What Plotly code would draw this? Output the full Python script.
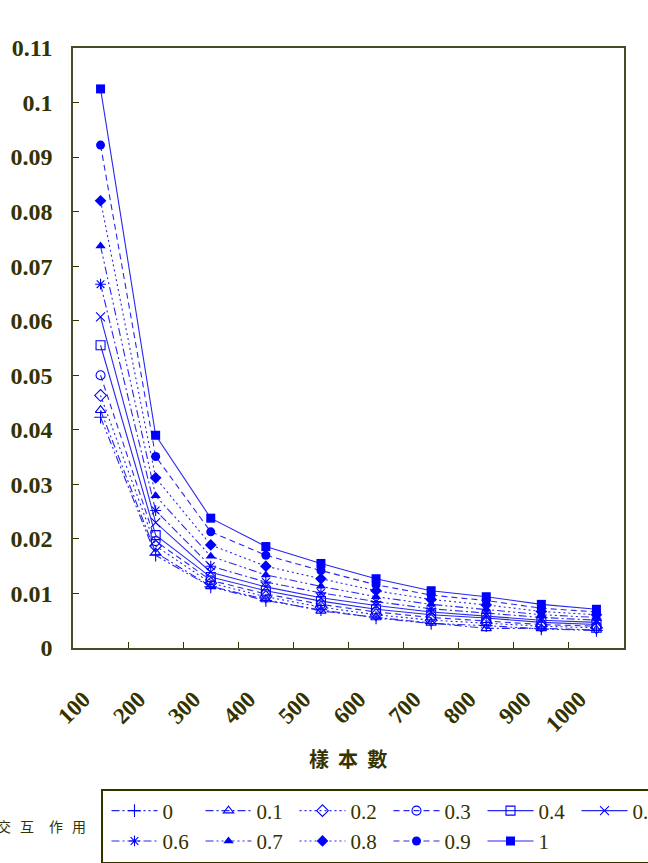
import plotly.graph_objects as go

categories = ['100', '200', '300', '400', '500', '600', '700', '800', '900', '1000']
series_names = ['0', '0.1', '0.2', '0.3', '0.4', '0.5', '0.6', '0.7', '0.8', '0.9', '1']

s_00 = [0.0423, 0.0170, 0.0112, 0.0087, 0.0070, 0.0055, 0.0045, 0.0041, 0.0035, 0.0032]
s_01 = [0.0436, 0.0175, 0.0113, 0.0089, 0.0068, 0.0056, 0.0046, 0.0036, 0.0036, 0.0033]
s_02 = [0.0463, 0.0187, 0.0119, 0.0094, 0.0075, 0.0061, 0.0051, 0.0046, 0.0040, 0.0037]
s_03 = [0.0500, 0.0196, 0.0124, 0.0099, 0.0080, 0.0066, 0.0056, 0.0050, 0.0043, 0.0040]
s_04 = [0.0555, 0.0207, 0.0130, 0.0105, 0.0086, 0.0071, 0.0061, 0.0055, 0.0047, 0.0043]
s_05 = [0.0607, 0.0230, 0.0139, 0.0112, 0.0092, 0.0078, 0.0066, 0.0059, 0.0051, 0.0047]
s_06 = [0.0667, 0.0252, 0.0150, 0.0121, 0.0101, 0.0085, 0.0072, 0.0064, 0.0056, 0.0051]
s_07 = [0.0737, 0.0279, 0.0168, 0.0134, 0.0113, 0.0094, 0.0080, 0.0071, 0.0061, 0.0056]
s_08 = [0.0820, 0.0312, 0.0189, 0.0150, 0.0127, 0.0105, 0.0089, 0.0079, 0.0067, 0.0061]
s_09 = [0.0922, 0.0351, 0.0213, 0.0170, 0.0142, 0.0116, 0.0097, 0.0087, 0.0073, 0.0066]
s_10 = [0.1025, 0.0390, 0.0238, 0.0186, 0.0155, 0.0127, 0.0105, 0.0094, 0.0080, 0.0071]

y_ticks = [0, 0.01, 0.02, 0.03, 0.04, 0.05, 0.06, 0.07, 0.08, 0.09, 0.1, 0.11]
y_tick_text = ['0', '0.01', '0.02', '0.03', '0.04', '0.05', '0.06', '0.07', '0.08', '0.09', '0.1', '0.11']

all_series = [s_00, s_01, s_02, s_03, s_04, s_05, s_06, s_07, s_08, s_09, s_10]

DDD = "8px,3px,2px,3px,2px,3px"
DD = "8px,3px,2px,3px"
DOT = "2px,3px"
DASH = "6px,4px"
styles = [
    ('cross-thin-open', DDD),
    ('triangle-up-open', DD),
    ('diamond-open', DOT),
    ('circle-open', DASH),
    ('square-open', 'solid'),
    ('x-thin-open', 'solid'),
    ('asterisk-open', DD),
    ('triangle-up', DDD),
    ('diamond', DOT),
    ('circle', DASH),
    ('square', 'solid'),
]

BLUE = '#0000FF'
LINE = '#2828F0'
OLIVE = '#333300'

fig = go.Figure()
for name, vals, (sym, dash) in zip(series_names, all_series, styles):
    filled = not sym.endswith('open')
    fig.add_trace(go.Scatter(
        x=categories, y=vals, name=name, mode='lines+markers',
        line=dict(color=LINE, width=1.1, dash=dash),
        marker=dict(symbol=sym, size=9, color=BLUE,
                    line=dict(color=BLUE, width=0 if filled else 1.1)),
    ))

W = 648
H = 863
L, R_EDGE, T, B_EDGE = 73, 624, 48, 648

def px_x(p):
    return p / W

def px_y(p):
    return (H - p) / H

fig.update_layout(
    width=W, height=H,
    margin=dict(l=0, r=0, t=0, b=0, pad=0, autoexpand=False),
    paper_bgcolor='white', plot_bgcolor='white',
    showlegend=True,
    legend=dict(
        orientation='h', x=px_x(101), y=px_y(789),
        xanchor='left', yanchor='top',
        bgcolor='white', bordercolor=OLIVE, borderwidth=1.5,
        font=dict(family='Liberation Serif', size=21, color=OLIVE),
        entrywidth=29, entrywidthmode='pixels', itemwidth=46, indentation=4,
        tracegroupgap=0,
    ),
    xaxis=dict(
        domain=[px_x(L), px_x(R_EDGE)],
        type='category', tickson='boundaries', ticks='inside', ticklen=6,
        tickcolor=OLIVE, tickwidth=1, showline=True, linecolor='#4a4a2a', linewidth=1.5,
        mirror=True, showgrid=False, tickangle=-45, ticklabelstandoff=27,
        ticklabelshift=-17,
        tickfont=dict(family='Liberation Serif', size=23, color=OLIVE, weight='bold'),
        range=[-0.5, 9.5],
    ),
    yaxis=dict(
        domain=[px_y(B_EDGE), px_y(T)],
        range=[0, 0.11], tickvals=y_ticks, ticktext=y_tick_text, ticks='inside', ticklen=6,
        tickcolor=OLIVE, tickwidth=1, showline=True, linecolor='#4a4a2a', linewidth=1.5,
        mirror=True, showgrid=False, zeroline=False, ticklabelstandoff=14,
        tickfont=dict(family='Liberation Serif', size=24, color=OLIVE, weight='bold'),
    ),
)

fig.add_annotation(text='樣  本  數', x=px_x(348), y=px_y(758), xref='paper', yref='paper',
                   showarrow=False, xanchor='center', yanchor='middle',
                   font=dict(family='Noto Sans CJK TC', size=20, color=OLIVE, weight='bold'))

side_chars = ['交', '互', '作', '用']
side_pos = [4, 27, 56, 79]
for ch, cx in zip(side_chars, side_pos):
    fig.add_annotation(text=ch, x=px_x(cx), y=px_y(826), xref='paper', yref='paper',
                       showarrow=False, xanchor='center', yanchor='middle',
                       font=dict(family='Noto Sans CJK TC', size=14, color=OLIVE))

post = ("document.documentElement.style.overflow='hidden';"
        "document.body.style.overflow='hidden';document.body.style.margin='0';")
fig.write_html("out.html", post_script=post)
